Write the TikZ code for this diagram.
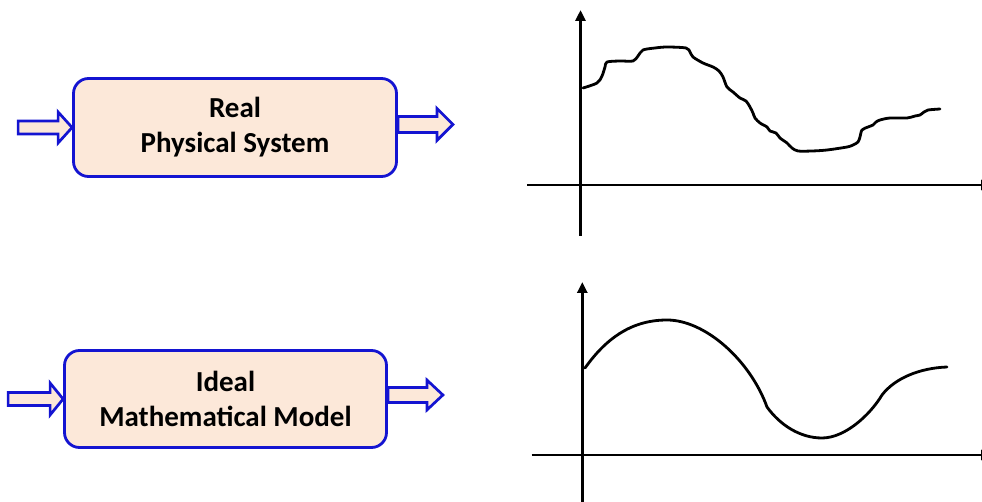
\documentclass[tikz,border=0pt]{standalone}
\usepackage{fontspec}
\setmainfont{Carlito}
\usepackage{tikz}
\usetikzlibrary{arrows.meta,positioning,calc}
\usepackage{xcolor}
\definecolor{boxblue}{rgb}{0.08,0.08,0.82}
\definecolor{boxpeach}{rgb}{0.99,0.91,0.85}

\begin{document}
\begin{tikzpicture}[x=1pt, y=-1pt,
    sysbox/.style={draw=boxblue, fill=boxpeach, line width=2.8pt, rounded corners=15pt,
      align=center, font=\fontsize{29}{35}\selectfont\bfseries},
    blockarrow/.style={draw=boxblue, fill=boxpeach, line width=2.7pt, line join=miter},
    axis/.style={line width=2.8pt, -{Triangle[length=11pt,width=10pt]}},
    signal/.style={line width=2.8pt, line cap=round, line join=round}]
  \useasboundingbox (0,0) rectangle (982,502);
  % Bloecke
  \node[sysbox, minimum width=323pt, minimum height=98pt] (real) at (235,127.5) {Real\\Physical System};
  \node[sysbox, minimum width=322pt, minimum height=97pt] (ideal) at (225.5,399) {Ideal\\Mathematical Model};
  % Eingangs- und Ausgangspfeile
  \draw[blockarrow] (real.west) -- ++(-14,-15.5) -- ++(0,9) -- ++(-40,0) -- ++(0,13) -- ++(40,0) -- ++(0,9) -- cycle;
  \draw[blockarrow] ([yshift=3pt]real.east) -- ++(0,-8) -- ++(39,0) -- ++(0,-8) -- ++(16,16) -- ++(-16,16) -- ++(0,-8) -- ++(-39,0) -- cycle;
  \draw[blockarrow] (ideal.west) -- ++(-13,-16) -- ++(0,9.5) -- ++(-42,0) -- ++(0,13) -- ++(42,0) -- ++(0,9.5) -- cycle;
  \draw[blockarrow] ([yshift=4pt]ideal.east) -- ++(0,-7.5) -- ++(39,0) -- ++(0,-7.5) -- ++(16,15) -- ++(-16,15) -- ++(0,-7.5) -- ++(-39,0) -- cycle;
  % Achsen oben
  \draw[axis] (580.5,236) -- (580.5,10);
  \draw[axis] (527,185) -- (992,185);
  % gemessenes Signal
  \draw[signal] plot[smooth, tension=0.5] coordinates {
    (583,88) (597,83) (602,76) (605,67) (607,62) (620,61) (633,61) (638,56) (643,50)
    (655,48) (667,47) (686,48) (690,52) (693,57) (703,63) (713,67) (719,71) (723,77)
    (727,87) (733,92) (740,98) (746,101) (750,107) (753,113) (755,118) (760,123)
    (767,127) (770,131) (776,133) (780,138) (787,143) (792,148) (798,151) (812,151)
    (827,150) (847,147) (853,145) (858,142) (860,137) (862,130) (868,127) (873,125)
    (876,122) (880,120) (890,118) (907,118) (915,116) (920,115) (924,112) (928,110) (940,109)};
  % Achsen unten
  \draw[axis] (582.3,502) -- (582.3,282);
  \draw[axis] (531.7,455) -- (992,455);
  % Modellsignal
  \draw[signal] (585,368) .. controls (605,340) and (630,320) .. (667,320)
    .. controls (705,320) and (750,360) .. (767,407)
    .. controls (780,425) and (800,438) .. (822,438)
    .. controls (845,438) and (870,415) .. (882,395)
    .. controls (895,378) and (920,368) .. (947,367);
\end{tikzpicture}
\end{document}
